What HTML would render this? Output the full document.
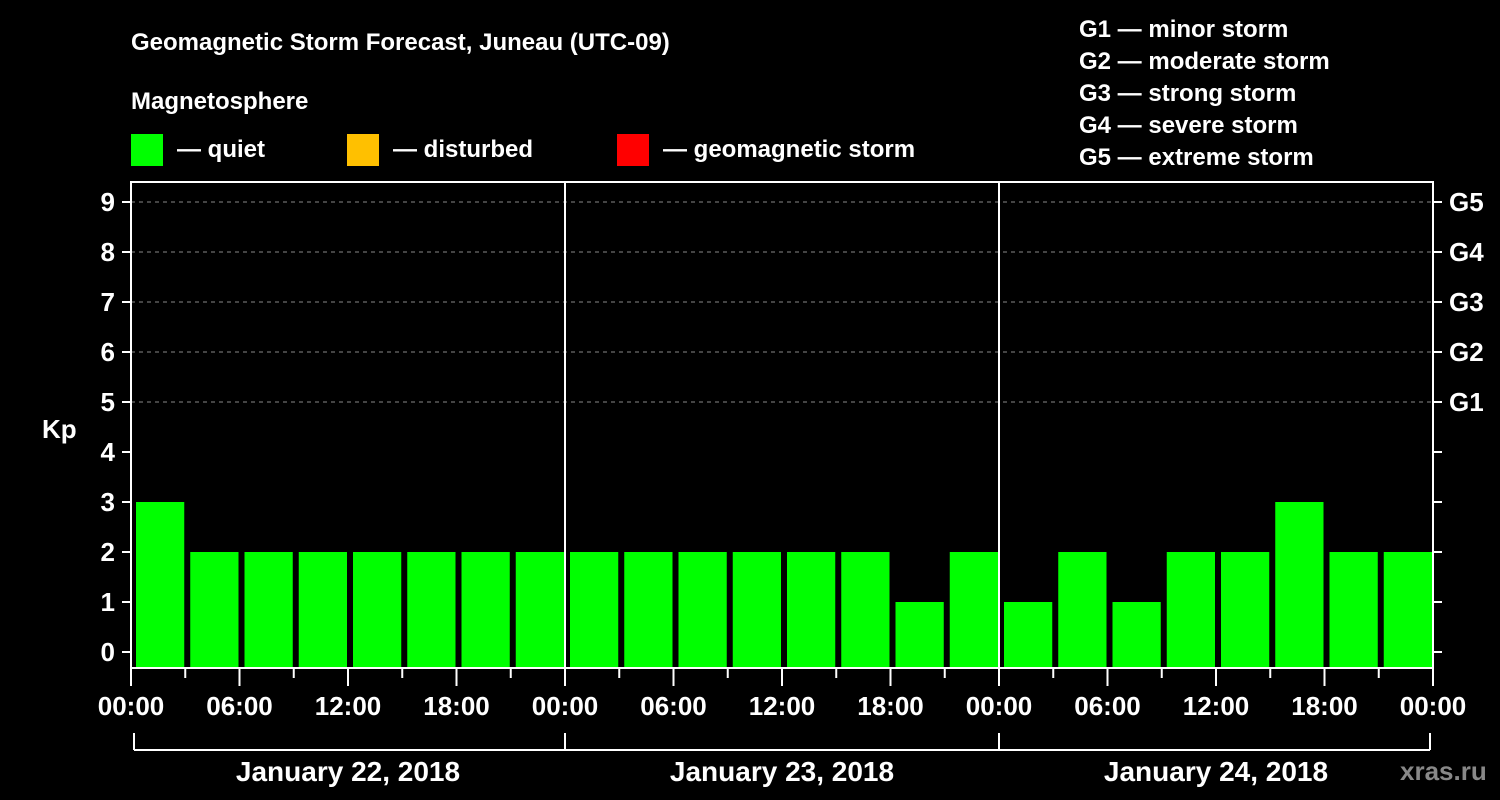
<!DOCTYPE html>
<html><head><meta charset="utf-8"><style>
body{margin:0;background:#000;}
svg{display:block;font-family:"Liberation Sans",Arial,sans-serif;font-weight:bold;}
</style></head><body>
<svg id="c" width="1500" height="800" viewBox="0 0 1500 800">
<rect width="1500" height="800" fill="#000"/>
<text x="131" y="50" fill="#fff" font-size="24">Geomagnetic Storm Forecast, Juneau (UTC-09)</text>
<text x="131" y="109" fill="#fff" font-size="24">Magnetosphere</text>
<g><rect x="131" y="134" width="32" height="32" fill="#00ff00"/><text x="177" y="157" fill="#fff" font-size="24">— quiet</text></g>
<g><rect x="347" y="134" width="32" height="32" fill="#ffc000"/><text x="393" y="157" fill="#fff" font-size="24">— disturbed</text></g>
<g><rect x="617" y="134" width="32" height="32" fill="#ff0000"/><text x="663" y="157" fill="#fff" font-size="24">— geomagnetic storm</text></g>
<g fill="#fff" font-size="24">
<text x="1079" y="37">G1 — minor storm</text>
<text x="1079" y="69">G2 — moderate storm</text>
<text x="1079" y="101">G3 — strong storm</text>
<text x="1079" y="133">G4 — severe storm</text>
<text x="1079" y="165">G5 — extreme storm</text>
</g>
<text x="42" y="438" fill="#fff" font-size="26">Kp</text>
<text x="1400" y="780" fill="#888" font-size="26">xras.ru</text>
<g id="grid"></g><g id="bars"></g><g id="axes"></g>
</svg>
<script>
const dayLabels=["January 22, 2018","January 23, 2018","January 24, 2018"];
const timeLabels=["00:00","06:00","12:00","18:00"];
const kpValues=[3,2,2,2,2,2,2,2, 2,2,2,2,2,2,1,2, 1,2,1,2,2,3,2,2];
const gLabels=["G1","G2","G3","G4","G5"];
const NS="http://www.w3.org/2000/svg";
const L=131,R=1433,T=182,B=668;
const slotW=(R-L)/kpValues.length;
const y=v=>652-50*v;
const x=i=>L+i*slotW;
function mk(tag,attrs,parent,txt){const e=document.createElementNS(NS,tag);for(const k in attrs)e.setAttribute(k,attrs[k]);if(txt!==undefined)e.textContent=txt;parent.appendChild(e);return e;}
const grid=document.getElementById('grid'),bars=document.getElementById('bars'),axes=document.getElementById('axes');
for(let v=5;v<=9;v++){const l=mk('line',{x1:L,x2:R,y1:y(v),y2:y(v),stroke:'#888','stroke-dasharray':'4,4','stroke-width':1},grid);

}
kpValues.forEach((v,i)=>{const col=v>=5?'#ff0000':(v>=4?'#ffc000':'#00ff00');
const r=mk('rect',{x:x(i)+5,y:y(v),width:slotW-6,height:B-y(v),fill:col},bars);

});
const fr=mk('rect',{x:L,y:T,width:R-L,height:B-T,fill:'none',stroke:'#fff','stroke-width':2},axes);


for(let d=1;d<dayLabels.length;d++){const xx=x(d*8);const l=mk('line',{x1:xx,x2:xx,y1:T,y2:B,stroke:'#fff','stroke-width':2},axes);

}
for(let v=0;v<=9;v++){mk('line',{x1:122,x2:L,y1:y(v),y2:y(v),stroke:'#fff','stroke-width':2},axes);
mk('line',{x1:R,x2:R+9,y1:y(v),y2:y(v),stroke:'#fff','stroke-width':2},axes);
const t=mk('text',{x:115,y:y(v)+9,fill:'#fff','font-size':26,'text-anchor':'end'},axes,String(v));

}
gLabels.forEach((g,i)=>{const t=mk('text',{x:1449,y:y(5+i)+9,fill:'#fff','font-size':26},axes,g);

});
for(let i=0;i<=kpValues.length;i++){const xx=x(i);const major=i%2===0;
mk('line',{x1:xx,x2:xx,y1:B,y2:major?686:678,stroke:'#fff','stroke-width':2},axes);
if(major){const t=mk('text',{x:xx,y:715,fill:'#fff','font-size':26,'text-anchor':'middle'},axes,timeLabels[(i/2)%4]);

}}
mk('line',{x1:x(0)+3,x2:x(kpValues.length)-3,y1:750,y2:750,stroke:'#fff','stroke-width':2},axes);
for(let d=0;d<=dayLabels.length;d++){const xx=d===0?x(0)+3:(d===dayLabels.length?x(kpValues.length)-3:x(d*8));mk('line',{x1:xx,x2:xx,y1:733,y2:750,stroke:'#fff','stroke-width':2},axes);}
dayLabels.forEach((s,d)=>{const t=mk('text',{x:(x(d*8)+x(d*8+8))/2,y:781,fill:'#fff','font-size':28,'text-anchor':'middle'},axes,s);

});
</script>
</body></html>
